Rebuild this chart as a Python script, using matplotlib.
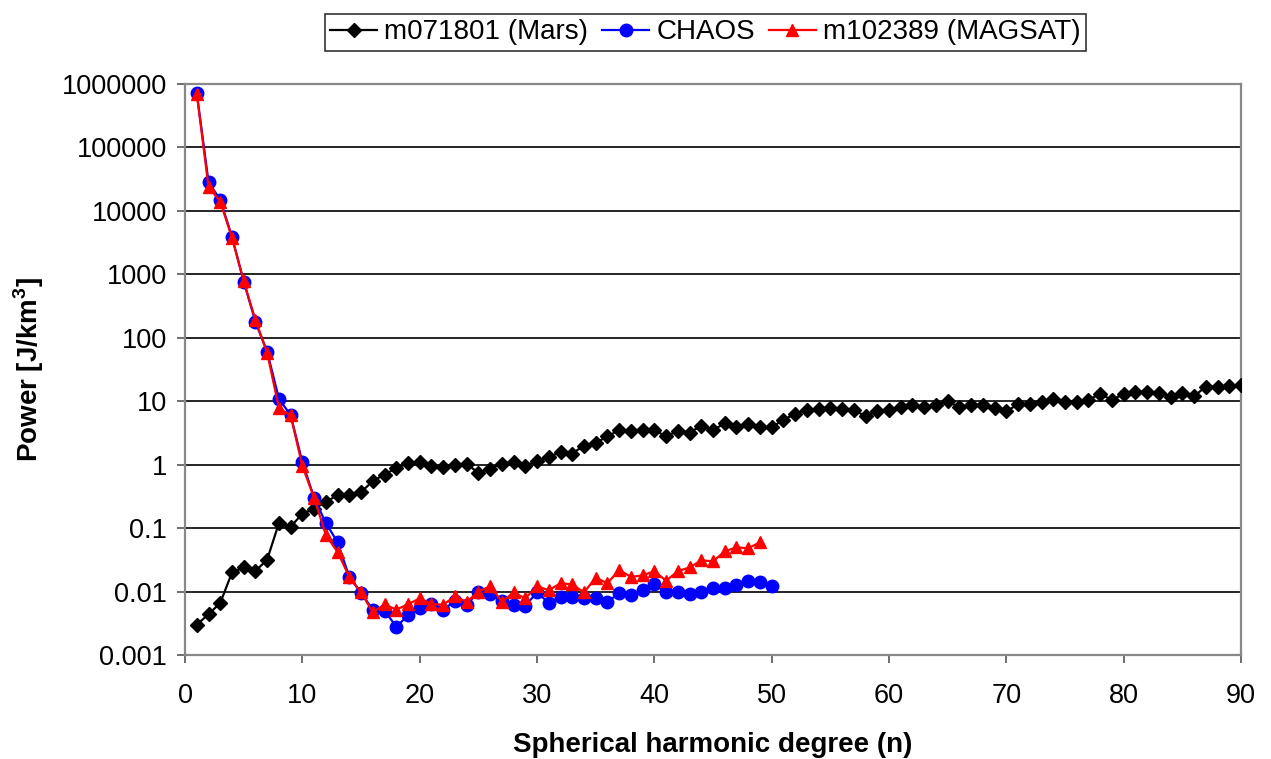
#!/usr/bin/env python3
"""Power spectra of lithospheric field models vs spherical harmonic degree."""

import matplotlib
matplotlib.use("Agg")
import matplotlib.pyplot as plt
import numpy as np
from matplotlib.ticker import FixedLocator, FuncFormatter, NullLocator

plt.rcParams["font.family"] = ["Liberation Sans", "DejaVu Sans"]
plt.rcParams["mathtext.fontset"] = "custom"
plt.rcParams["mathtext.rm"] = "Liberation Sans"
plt.rcParams["mathtext.bf"] = "Liberation Sans:bold"

mars_n = list(range(1, 91))
mars_power = [
    0.003, 0.0044, 0.0066, 0.02, 0.024, 0.021, 0.032, 0.12, 0.105, 0.17,
    0.2, 0.26, 0.33, 0.33, 0.37, 0.55, 0.7, 0.88, 1.05, 1.09,
    0.95, 0.91, 1.0, 1.02, 0.75, 0.86, 1.04, 1.1, 0.95, 1.15,
    1.3, 1.6, 1.5, 2.0, 2.2, 2.8, 3.5, 3.4, 3.5, 3.5,
    2.8, 3.4, 3.2, 4.1, 3.5, 4.5, 3.9, 4.3, 3.9, 3.9,
    5.1, 6.3, 7.4, 7.6, 7.7, 7.5, 7.3, 5.8, 7.1, 7.3,
    8.0, 8.6, 8.0, 8.6, 10.0, 8.0, 8.6, 8.6, 7.7, 6.9,
    9.0, 9.0, 9.8, 11.0, 9.8, 9.8, 10.5, 13.0, 10.5, 13.0,
    14.0, 14.0, 13.7, 11.8, 13.7, 12.0, 17.0, 16.7, 17.5, 17.8,
]

chaos_n = list(range(1, 51))
chaos_power = [
    720000, 28500, 15000, 3900, 770, 178, 60, 11, 6.0, 1.1,
    0.3, 0.12, 0.06, 0.017, 0.0095, 0.0052, 0.005, 0.0028, 0.0042, 0.0055,
    0.0064, 0.0051, 0.0072, 0.0062, 0.0099, 0.009, 0.0072, 0.0062, 0.006, 0.0097,
    0.0066, 0.0082, 0.0082, 0.008, 0.0078, 0.0068, 0.0095, 0.0088, 0.0107, 0.013,
    0.0097, 0.01, 0.009, 0.0097, 0.0113, 0.0115, 0.0125, 0.0147, 0.014, 0.0122,
]

magsat_n = list(range(1, 50))
magsat_power = [
    700000, 24000, 14000, 3800, 780, 190, 58, 7.8, 6.0, 0.95,
    0.3, 0.078, 0.042, 0.017, 0.0098, 0.0047, 0.0063, 0.0052, 0.0063, 0.0078,
    0.0064, 0.0062, 0.0084, 0.0069, 0.0099, 0.0122, 0.0069, 0.0097, 0.0078, 0.0122,
    0.0105, 0.0135, 0.013, 0.0097, 0.0165, 0.0135, 0.022, 0.017, 0.018, 0.021,
    0.0148, 0.021, 0.024, 0.031, 0.03, 0.043, 0.05, 0.048, 0.06,
]

y_ticks = [0.001, 0.01, 0.1, 1, 10, 100, 1000, 10000, 100000, 1000000]

fig = plt.figure(figsize=(12.71, 7.59), dpi=100)
ax = fig.add_axes([0.1456, 0.137, 0.8308, 0.7523])

ax.plot(mars_n, mars_power, color="black", marker="D", markersize=7,
        linewidth=1.6, label="m071801 (Mars)", zorder=3)
ax.plot(chaos_n, chaos_power, color="blue", marker="o", markersize=9,
        linewidth=1.6, label="CHAOS", zorder=4)
ax.plot(magsat_n, magsat_power, color="red", marker="^", markersize=9,
        linewidth=1.6, label="m102389 (MAGSAT)", zorder=5)

ax.set_yscale("log")
ax.set_xlim(0, 90)
ax.set_ylim(0.001, 1000000)
ax.set_xticks(range(0, 91, 10))
ax.yaxis.set_major_locator(FixedLocator(y_ticks))
ax.yaxis.set_minor_locator(NullLocator())
ax.yaxis.set_major_formatter(
    FuncFormatter(lambda v, _: np.format_float_positional(v, trim="-")))
ax.tick_params(axis="both", labelsize=19.5, direction="out", length=6,
               width=1.2, color="#555555")
ax.tick_params(axis="x", pad=14)
ax.tick_params(axis="y", pad=7)

ax.grid(True, axis="y", color="black", linewidth=1.2)
ax.set_axisbelow(True)
for side in ["left", "bottom", "top", "right"]:
    ax.spines[side].set_color("#888888")
    ax.spines[side].set_linewidth(1.6)

ax.set_xlabel("Spherical harmonic degree (n)", fontsize=20, fontweight="bold")
ax.set_ylabel(r"Power [J/km$^{\mathbf{3}}$]", fontsize=20, fontweight="bold")
ax.xaxis.set_label_coords(0.5, -0.135)
ax.yaxis.set_label_coords(-0.132, 0.5)

leg = fig.legend(loc="upper center", bbox_to_anchor=(0.555, 1.0), ncol=3,
                 fontsize=20, frameon=True, fancybox=False, edgecolor="black",
                 handlelength=1.7, handletextpad=0.25, columnspacing=0.5,
                 borderpad=0.2)
leg.get_frame().set_linewidth(1.2)

fig.savefig("out.png", dpi=100)
